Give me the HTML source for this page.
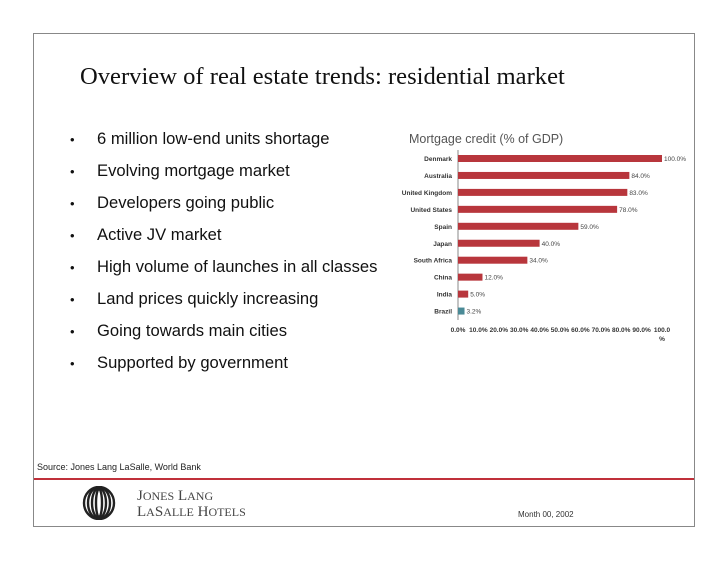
<!DOCTYPE html>
<html><head><meta charset="utf-8"><style>
body{margin:0;width:728px;height:563px;background:#fff;position:relative;overflow:hidden;font-family:"Liberation Sans",sans-serif}
.frame{position:absolute;left:33px;top:33px;width:662px;height:494px;border:1px solid #888;box-sizing:border-box}
.title{position:absolute;left:80px;top:63px;font-family:"Liberation Serif",serif;font-size:24.6px;color:#111;white-space:nowrap}
ul{position:absolute;left:70px;top:127px;margin:0;padding:0;list-style:none}
li{font-size:16.6px;height:32px;line-height:24px;color:#111;white-space:nowrap}
li span.b{display:inline-block;width:27px;font-size:13px}
.src{position:absolute;left:37px;top:462px;font-size:9px;color:#222}
.rule{position:absolute;left:34px;top:478px;width:660px;height:2px;background:#c0303a}
.logo{position:absolute;left:137px;top:488px;font-family:"Liberation Serif",serif;font-size:15px;line-height:16px;color:#444}
.date{position:absolute;left:518px;top:510px;font-size:8px;color:#333}
</style></head><body>
<div class="frame"></div>
<div class="title">Overview of real estate trends: residential market</div>
<ul>
<li><span class="b">•</span>6 million low-end units shortage</li>
<li><span class="b">•</span>Evolving mortgage market</li>
<li><span class="b">•</span>Developers going public</li>
<li><span class="b">•</span>Active JV market</li>
<li><span class="b">•</span>High volume of launches in all classes</li>
<li><span class="b">•</span>Land prices quickly increasing</li>
<li><span class="b">•</span>Going towards main cities</li>
<li><span class="b">•</span>Supported by government</li>
</ul>
<svg id="chart" style="position:absolute;left:0;top:0" width="728" height="563"></svg>
<div class="src">Source: Jones Lang LaSalle, World Bank</div>
<div class="rule"></div>
<svg style="position:absolute;left:77px;top:486px" width="44" height="34">
<g fill="none" stroke="#222" stroke-width="2.4"><ellipse cx="22" cy="17" rx="3" ry="14"/><ellipse cx="22" cy="17" rx="7" ry="15"/><ellipse cx="22" cy="17" rx="11" ry="16"/><ellipse cx="22" cy="17" rx="15" ry="16"/></g></svg>
<div class="logo">J<span style="font-size:12px">ONES</span> L<span style="font-size:12px">ANG</span><br>L<span style="font-size:12px">A</span>S<span style="font-size:12px">ALLE</span> H<span style="font-size:12px">OTELS</span></div>
<div class="date">Month 00, 2002</div>
<script>
const categories=["Denmark","Australia","United Kingdom","United States","Spain","Japan","South Africa","China","India","Brazil"];
const values=[100,84,83,78,59,40,34,12,5,3.2];
const valueLabels=["100.0%","84.0%","83.0%","78.0%","59.0%","40.0%","34.0%","12.0%","5.0%","3.2%"];
const ticks=[0,10,20,30,40,50,60,70,80,90,100];
const tickLabels=["0.0%","10.0%","20.0%","30.0%","40.0%","50.0%","60.0%","70.0%","80.0%","90.0%","100.0"];
const svg=document.getElementById('chart');const NS='http://www.w3.org/2000/svg';
const x=v=>458+v*2.04;const y=i=>158.5+i*16.95;
function mk(t,a,txt){const e=document.createElementNS(NS,t);for(const k in a)e.setAttribute(k,a[k]);if(txt!==undefined)e.textContent=txt;svg.appendChild(e);return e;}
let t=mk('text',{x:409,y:143,'font-size':12.5,fill:'#555','font-family':'Liberation Sans, sans-serif'},'Mortgage credit (% of GDP)');


let ax=mk('line',{x1:458,y1:150,x2:458,y2:320,stroke:'#888','stroke-width':1});


categories.forEach((c,i)=>{
 let l=mk('text',{x:452,y:y(i)+2.5,'font-size':6.5,'font-weight':'bold','text-anchor':'end',fill:'#333','font-family':'Liberation Sans, sans-serif'},c);
 
 
 let b=mk('rect',{x:x(0),y:y(i)-3.5,width:x(values[i])-x(0),height:7,fill:c==='Brazil'?'#4a8a96':'#b8363c'});
 
 
 let v=mk('text',{x:x(values[i])+2,y:y(i)+2.5,'font-size':6.5,fill:'#444','font-family':'Liberation Sans, sans-serif'},valueLabels[i]);
 
 
});
ticks.forEach((tk,i)=>{
 let e=mk('text',{x:x(tk),y:332,'font-size':6.5,'font-weight':'bold','text-anchor':'middle',fill:'#333','font-family':'Liberation Sans, sans-serif'},tickLabels[i]);
 
 
});
let p=mk('text',{x:x(100),y:341,'font-size':6.5,'font-weight':'bold','text-anchor':'middle',fill:'#333'},'%');


</script>
</body></html>
